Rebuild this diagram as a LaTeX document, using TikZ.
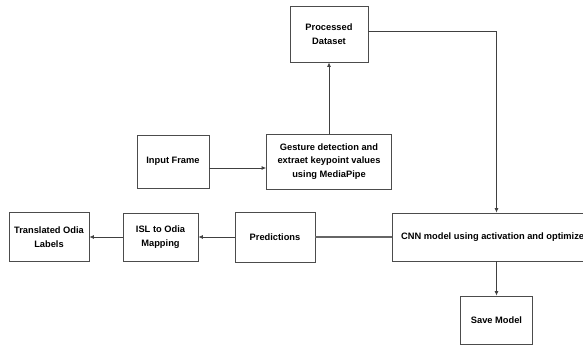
\documentclass[tikz,border=0pt]{standalone}
\usepackage{fontspec}
\setmainfont{Liberation Sans}
\usetikzlibrary{arrows.meta}

\begin{document}
\begin{tikzpicture}[x=1pt, y=-1pt]
    \tikzstyle{stage} = [rectangle, draw=black!70, line width=0.8pt, fill=white, inner sep=0pt, align=center, font=\bfseries\fontsize{9.3}{13.5}\selectfont]
    \tikzstyle{flow} = [draw=black!75, line width=0.8pt, -{Latex[length=4.5pt, width=4pt]}]
    \tikzstyle{link} = [draw=black!60, line width=1.1pt]

    % Page frame
    \useasboundingbox (0,0) rectangle (583,347);
    \clip (0,0) rectangle (583,347);

    % Upper row
    \node[stage, minimum width=78pt, minimum height=56pt] (proc) at (329,34) {Processed\\Dataset};
    \node[stage, minimum width=72pt, minimum height=53pt] (input) at (173,161.5) {Input Frame};
    \node[stage, minimum width=125pt, minimum height=55pt] (gest) at (329,161.5) {Gesture detection and\\extraet keypoint values\\using MediaPipe};

    % Lower row
    \node[stage, minimum width=209pt, minimum height=48pt] (cnn) at (496.5,237) {};
    \node[font=\bfseries\fontsize{9.3}{13.5}\selectfont, anchor=west, inner sep=0pt] (cnntext) at (401,237) {CNN model using activation and optimize};
    \node[stage, minimum width=80pt, minimum height=50pt] (pred) at (275,237) {Predictions};
    \node[stage, minimum width=75pt, minimum height=48pt] (isl) at (160.5,237) {ISL to Odia\\Mapping};
    \node[stage, minimum width=80pt, minimum height=49pt] (trans) at (49,237) {Translated Odia\\Labels};
    \node[stage, minimum width=72pt, minimum height=48pt] (save) at (496.5,320) {Save Model};

    % Connectors
    \draw[flow] ([yshift=-6.5pt]input.east) -- ([yshift=-6.5pt]gest.west);
    \draw[flow] (gest.north) -- (proc.south);
    \draw[flow] ([yshift=3pt]proc.east) -| (cnn.north);
    \draw[link] (cnn.west) -- (pred.east);
    \draw[flow] (pred.west) -- (isl.east);
    \draw[flow] (isl.west) -- (trans.east);
    \draw[flow] (cnn.south) -- (save.north);
\end{tikzpicture}
\end{document}
